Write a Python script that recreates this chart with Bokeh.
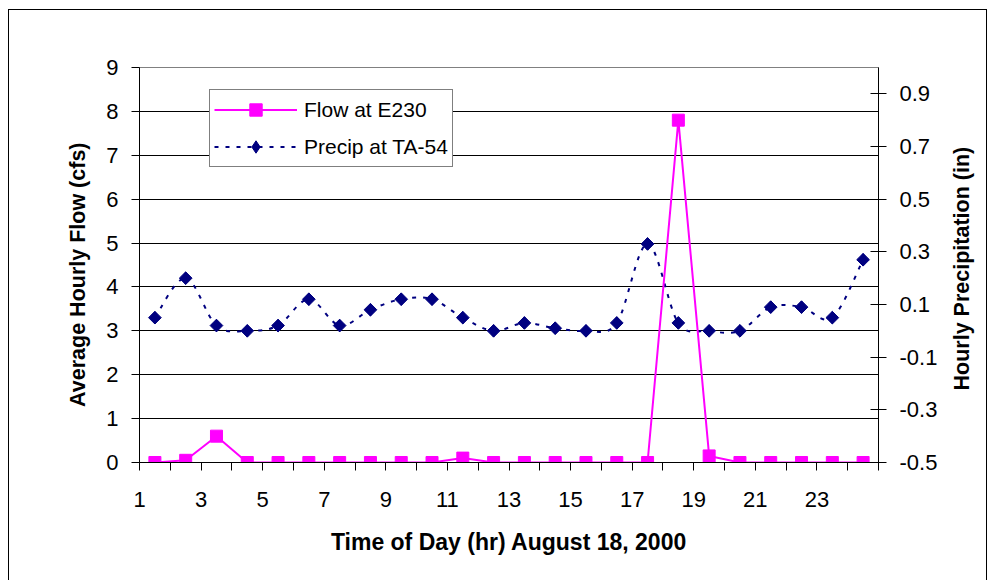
import numpy as np
from bokeh.plotting import figure
from bokeh.models import (Range1d, LinearAxis, FixedTicker, BasicTickFormatter,
                          Legend, LegendItem, ColumnDataSource)
from bokeh.embed import file_html
from bokeh.resources import INLINE

# Hourly data, August 18, 2000
hours = list(range(1, 25))
flow_cfs = [0, 0.05, 0.6, 0, 0, 0, 0, 0, 0, 0, 0.1, 0,
            0, 0, 0, 0, 0, 7.8, 0.15, 0, 0, 0, 0, 0]
precip_in = [0.05, 0.20, 0.02, 0.0, 0.02, 0.12, 0.02, 0.08, 0.12, 0.12, 0.05, 0.0,
             0.03, 0.01, 0.0, 0.03, 0.33, 0.03, 0.0, 0.0, 0.09, 0.09, 0.05, 0.27]
x_tick_labels = ["1", "3", "5", "7", "9", "11", "13", "15", "17", "19", "21", "23"]
flow_ticks = list(range(0, 10))
precip_ticks = [-0.5, -0.3, -0.1, 0.1, 0.3, 0.5, 0.7, 0.9]
precip_tick_labels = ["-0.5", "-0.3", "-0.1", "0.1", "0.3", "0.5", "0.7", "0.9"]

FONT = "Liberation Sans"
MAGENTA = "#FF00FF"
NAVY = "#000080"

# chart box: border starts at (8, 9); content starts one pixel inside
BOX_L, BOX_T = 8, 9
W, H = 979, 571
OX, OY = BOX_L + 1, BOX_T + 1
FL, FR, FT, FB = 139 - OX, 878 - OX, 67 - OY, 462 - OY

F_LO, F_HI = 0, 9
P_LO, P_HI = -0.5, 1.0

# categories occupy unit-wide slots; each point sits mid-slot
xs = [h - 0.5 for h in hours]

p = figure(width=W, height=H, output_backend="svg", toolbar_location=None,
           x_range=Range1d(0, 24), y_range=Range1d(F_LO, F_HI),
           min_border_left=FL, min_border_right=W - FR,
           min_border_top=FT, min_border_bottom=H - FB,
           background_fill_color="white", border_fill_color="white")
p.margin = (BOX_T, 0, 0, BOX_L)
p.styles = {"border-top": "1px solid black", "border-left": "1px solid black",
            "border-right": "1px solid black"}
p.extra_y_ranges = {"precip": Range1d(P_LO, P_HI)}
p.outline_line_color = "#808080"
p.outline_line_width = 1
p.xgrid.visible = False
p.ygrid.ticker = FixedTicker(ticks=flow_ticks)
p.ygrid.grid_line_color = "black"
p.ygrid.grid_line_width = 1

# bottom (category) axis: ticks on slot boundaries, labels on odd hours
xa = p.xaxis[0]
xa.ticker = FixedTicker(ticks=list(range(0, 25)))
overrides = {i: "" for i in range(0, 25)}
for k, lab in enumerate(x_tick_labels):
    overrides[2 * k] = lab
xa.major_label_overrides = overrides
xa.axis_label = "Time of Day (hr) August 18, 2000"
xa.minor_tick_line_color = None
xa.major_tick_in = 0
xa.major_tick_out = 8
xa.major_label_standoff = 21
xa.axis_label_standoff = 19

# left axis: flow
ya = p.yaxis[0]
ya.ticker = FixedTicker(ticks=flow_ticks)
ya.minor_tick_line_color = None
ya.major_tick_in = 0
ya.major_tick_out = 8
ya.major_label_standoff = 13

# right axis: precipitation
ra = LinearAxis(y_range_name="precip", ticker=FixedTicker(ticks=precip_ticks),
                formatter=BasicTickFormatter(precision=1))
ra.major_label_overrides = dict(zip(precip_ticks, precip_tick_labels))
ra.minor_tick_line_color = None
ra.major_tick_in = 8
ra.major_tick_out = 8
ra.major_label_standoff = 13
p.add_layout(ra, "right")

for ax in (xa, ya, ra):
    ax.axis_line_color = "black"
    ax.major_tick_line_color = "black"
    ax.major_label_text_font = FONT
    ax.major_label_text_font_size = "22px"
    ax.major_label_text_color = "black"
    ax.axis_label_text_font = FONT
    ax.axis_label_text_font_style = "bold"
    ax.axis_label_text_color = "black"
xa.axis_label_text_font_size = "23px"


def title_axis(text, range_name, lo, hi, anchor_px, standoff):
    """Bare outer axis carrying one rotated label anchored at page y = anchor_px."""
    at = lo + (462 - anchor_px) / (462 - 67) * (hi - lo)
    kw = {} if range_name is None else {"y_range_name": range_name}
    ax = LinearAxis(ticker=FixedTicker(ticks=[at]), major_label_overrides={at: text},
                    major_label_orientation=np.pi / 2, **kw)
    ax.axis_line_color = None
    ax.major_tick_line_color = None
    ax.minor_tick_line_color = None
    ax.major_tick_in = 0
    ax.major_tick_out = 0
    ax.major_label_standoff = standoff
    ax.major_label_text_font = FONT
    ax.major_label_text_font_style = "bold"
    ax.major_label_text_font_size = "21.5px"
    ax.major_label_text_color = "black"
    return ax


# vertical titles, both reading bottom to top
p.add_layout(title_axis("Average Hourly Flow (cfs)", None, F_LO, F_HI, 142, 26), "left")
p.add_layout(title_axis("Hourly Precipitation (in)", "precip", P_LO, P_HI, 390, 21), "right")

# precipitation: smoothed curve through the hourly points (Catmull-Rom -> cubic Bezier)
px = np.array(xs, dtype=float)
py = np.array(precip_in, dtype=float)
n = len(px)
i0 = np.arange(n - 1)
i1 = i0 + 1
prev_i = np.clip(i0 - 1, 0, n - 1)
next_i = np.clip(i0 + 2, 0, n - 1)
curve = ColumnDataSource(dict(
    x0=px[i0], y0=py[i0], x1=px[i1], y1=py[i1],
    cx0=px[i0] + (px[i1] - px[prev_i]) / 6.0, cy0=py[i0] + (py[i1] - py[prev_i]) / 6.0,
    cx1=px[i1] - (px[next_i] - px[i0]) / 6.0, cy1=py[i1] - (py[next_i] - py[i0]) / 6.0,
))
precip_curve = p.bezier(x0="x0", y0="y0", x1="x1", y1="y1", cx0="cx0", cy0="cy0",
                        cx1="cx1", cy1="cy1", source=curve, y_range_name="precip",
                        line_color=NAVY, line_width=2, line_dash="4 7")
# diamond symbol for the legend key (sits inside the plotted markers)
precip_key = p.scatter(xs, precip_in, y_range_name="precip", marker="diamond",
                       size=12, fill_color=NAVY, line_color=NAVY)
precip_pts = p.scatter(xs, precip_in, y_range_name="precip", marker="square",
                       angle=np.pi / 4, size=9, fill_color=NAVY, line_color=NAVY)

# flow: straight segments with square markers
flow_line = p.line(xs, flow_cfs, line_color=MAGENTA, line_width=2)
flow_pts = p.scatter(xs, flow_cfs, marker="square", size=12,
                     fill_color=MAGENTA, line_color=MAGENTA)

legend = Legend(items=[
    LegendItem(label="Flow at E230", renderers=[flow_line, flow_pts]),
    LegendItem(label="Precip at TA-54", renderers=[precip_curve, precip_key], index=0),
], location=(209 - 139, 462 - 167), orientation="vertical")
legend.label_text_font = FONT
legend.label_text_font_size = "21px"
legend.label_text_color = "black"
legend.padding = 4
legend.spacing = 6
legend.margin = 0
legend.glyph_width = 83
legend.glyph_height = 31
legend.label_height = 31
legend.label_standoff = 7
legend.border_line_color = "black"
legend.border_line_width = 1
legend.background_fill_color = "white"
legend.background_fill_alpha = 1
p.add_layout(legend, "center")

open("out.html", "w").write(file_html(p, INLINE))
